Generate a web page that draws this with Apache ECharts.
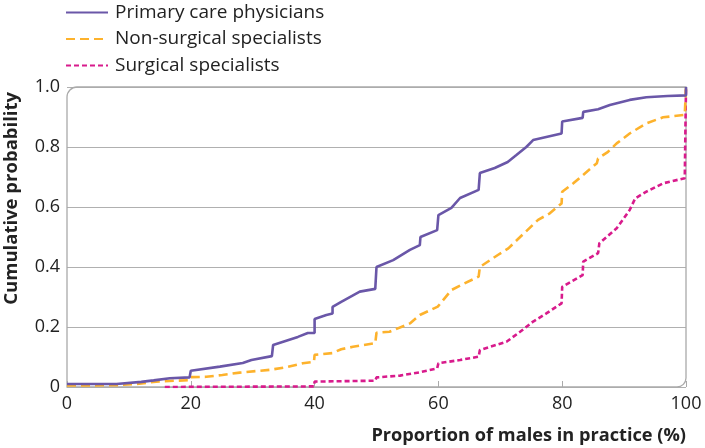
<!DOCTYPE html>
<html>
<head>
<meta charset="utf-8">
<script src="https://cdn.jsdelivr.net/npm/echarts@6/dist/echarts.min.js"></script>
<style>html,body{margin:0;padding:0;background:#fff}#c{width:705px;height:448px}</style>
</head>
<body>
<div id="c"></div>
<script>
var seriesNames = ['Primary care physicians', 'Non-surgical specialists', 'Surgical specialists'];
var xTicks = [0, 20, 40, 60, 80, 100];
var yTicks = [0, 0.2, 0.4, 0.6, 0.8, 1.0];

var primaryCare = [[0,0.01],[8,0.01],[12,0.017],[14,0.022],[16.6,0.029],[19.8,0.032],[20,0.054],[24.7,0.068],[28.4,0.08],[29.8,0.09],[33.1,0.103],[33.3,0.14],[37.3,0.167],[38.9,0.18],[40,0.18],[40,0.227],[41.9,0.24],[42.9,0.245],[42.9,0.267],[44.3,0.284],[47.3,0.318],[49.8,0.327],[50,0.327],[50,0.40],[52.7,0.423],[55.4,0.457],[57,0.473],[57.1,0.50],[59.8,0.523],[60,0.523],[60,0.573],[62.1,0.597],[63.5,0.63],[66.5,0.657],[66.7,0.657],[66.7,0.713],[69.1,0.73],[71.2,0.75],[72.6,0.773],[74.2,0.80],[75.3,0.823],[79.9,0.845],[80,0.845],[80,0.885],[83.3,0.897],[83.4,0.917],[85.8,0.926],[87.7,0.94],[90.9,0.957],[93.6,0.966],[97,0.97],[100,0.972],[100,1.0]];
var nonSurgical = [[0,0.005],[8,0.006],[11.2,0.01],[14.4,0.018],[19.8,0.023],[20,0.033],[22.5,0.034],[25.1,0.04],[27.9,0.048],[32.7,0.057],[35.4,0.066],[38.1,0.079],[39.9,0.084],[40,0.107],[42.9,0.113],[44.3,0.126],[46.2,0.134],[49.8,0.146],[50,0.181],[52.1,0.184],[55.4,0.212],[57,0.24],[59.9,0.268],[62.1,0.323],[63.7,0.34],[66.5,0.368],[66.7,0.368],[66.7,0.40],[69.6,0.44],[71.3,0.462],[73.2,0.50],[76.1,0.557],[78,0.579],[79.9,0.612],[80,0.612],[80,0.651],[81.8,0.679],[85.6,0.746],[85.8,0.762],[87.4,0.784],[88.8,0.812],[90.9,0.845],[93.6,0.879],[96.3,0.899],[99.8,0.907],[100,0.907],[100,1.0]];
var surgical = [[15.8,0],[39.9,0.002],[40,0.018],[49.8,0.021],[50,0.032],[53.8,0.038],[57,0.049],[59.8,0.062],[60,0.079],[63.5,0.09],[66.5,0.101],[66.7,0.123],[71,0.151],[73.2,0.184],[75.3,0.218],[77.5,0.246],[79.9,0.279],[80,0.334],[83.3,0.373],[83.4,0.418],[85.8,0.446],[86,0.479],[88.8,0.529],[90.9,0.59],[91.8,0.629],[93.6,0.651],[96.3,0.679],[99.8,0.696],[100,0.70],[100,1.0]];

var FONT = '"Open Sans"';
var G = {left: 67, top: 87, right: 19, bottom: 61};
var W = 705, H = 448;
var chart = echarts.init(document.getElementById('c'), null, {renderer: 'canvas'});
chart.setOption({
  animation: false,
  backgroundColor: '#fff',
  textStyle: {fontFamily: FONT},
  grid: {left: G.left, top: G.top, right: G.right, bottom: G.bottom},
  legend: {
    data: seriesNames,
    orient: 'vertical',
    left: 65, top: 3, padding: 0,
    itemWidth: 42, itemHeight: 14, itemGap: 7.5,
    itemStyle: {opacity: 0},
    textStyle: {fontFamily: FONT, fontSize: 19, color: '#222', padding: [0,0,0,2]}
  },
  xAxis: {
    type: 'value', min: 0, max: 100, interval: 20,
    axisLine: {show: false},
    axisTick: {show: true, inside: true, length: 6, lineStyle: {color: '#aaa', width: 1}},
    axisLabel: {fontFamily: FONT, fontSize: 18, color: '#222', margin: 8,
      formatter: function (v) { return xTicks.indexOf(v) >= 0 ? String(v) : ''; }},
    splitLine: {show: false}
  },
  yAxis: {
    type: 'value', min: 0, max: 1, interval: 0.2,
    axisLine: {show: false},
    axisTick: {show: false},
    axisLabel: {fontFamily: FONT, fontSize: 18, color: '#222', margin: 7,
      formatter: function (v) { return v === 0 ? '0' : v.toFixed(1); }},
    splitLine: {show: true, lineStyle: {color: '#b0b0b0', width: 1.2}}
  },
  graphic: [
    {type: 'rect', z: 1, silent: true,
      shape: {x: G.left, y: G.top, width: W - G.left - G.right, height: H - G.top - G.bottom, r: [10, 0, 9, 0]},
      style: {fill: 'none', stroke: '#aaa', lineWidth: 1.3}},
    {type: 'text', z: 10, left: 2, top: 92, rotation: Math.PI / 2, silent: true,
      style: {text: 'Cumulative probability', fontFamily: FONT, fontWeight: 'bold', fontSize: 18.5, fill: '#222'}},
    {type: 'text', z: 10, right: 19, top: 427, silent: true,
      style: {text: 'Proportion of males in practice (%)', fontFamily: FONT, fontWeight: 'bold', fontSize: 18.2, fill: '#222'}}
  ],
  series: [
    {name: seriesNames[2], type: 'line', data: surgical, symbol: 'none', z: 3,
      lineStyle: {color: '#d81b8c', width: 2.6, type: [5, 3]}, itemStyle: {color: '#d81b8c'}},
    {name: seriesNames[1], type: 'line', data: nonSurgical, symbol: 'none', z: 4,
      lineStyle: {color: '#fdb22c', width: 2.6, type: [9, 5]}, itemStyle: {color: '#fdb22c'}},
    {name: seriesNames[0], type: 'line', data: primaryCare, symbol: 'none', z: 5,
      lineStyle: {color: '#6a57a8', width: 2.6}, itemStyle: {color: '#6a57a8'}}
  ]
});
</script>
</body>
</html>
